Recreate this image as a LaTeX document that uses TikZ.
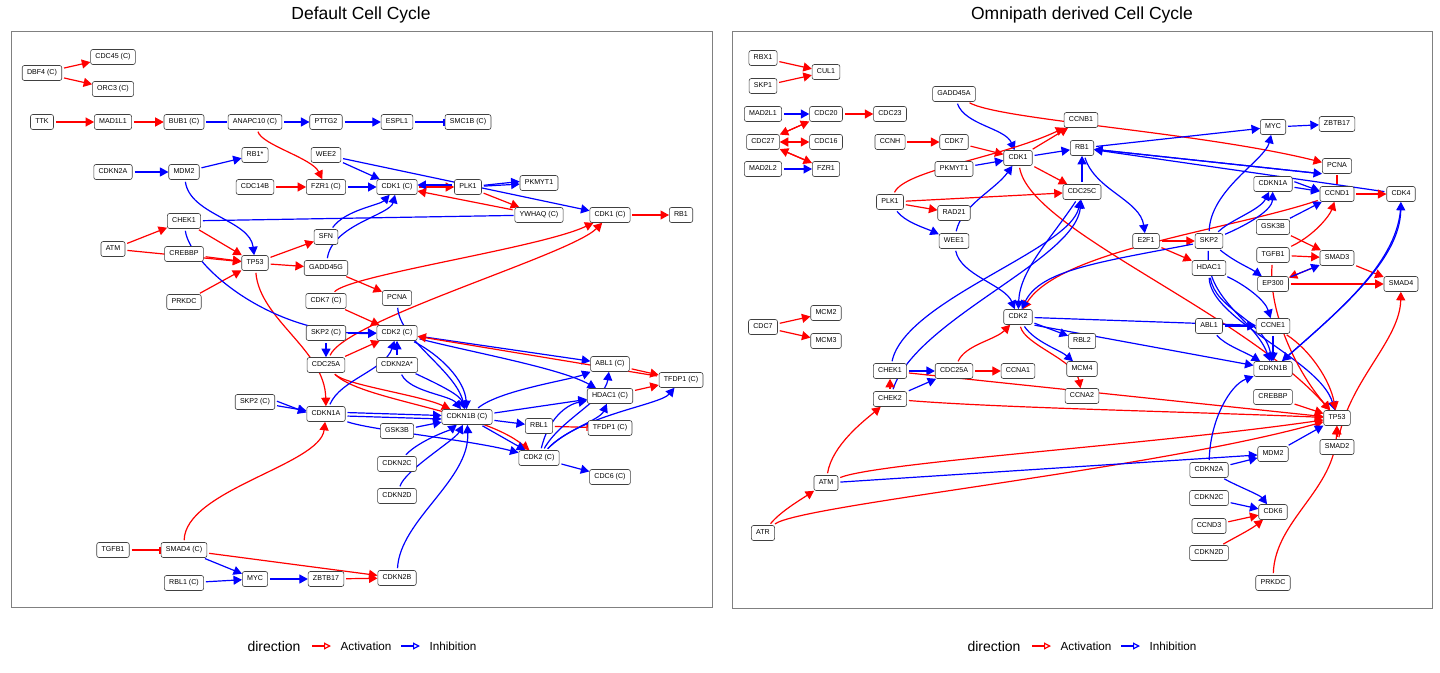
\documentclass[tikz,border=0pt]{standalone}
\usepackage{fontspec}
\setmainfont{Liberation Sans}
\usetikzlibrary{arrows.meta}
\pgfdeclarelayer{canvasbg}
\pgfdeclarelayer{background}
\pgfsetlayers{canvasbg,background,main}
\begin{document}
\begin{tikzpicture}[x=1pt,y=-1pt,
  nd/.style={draw=black!75, fill=white, rounded corners=2.2pt, line width=0.6pt,
    font=\fontsize{7.1}{8}\selectfont, inner xsep=4.8pt, inner ysep=0pt,
    minimum height=15pt, text height=5.3pt, text depth=1.5pt},
  edge/.style={line width=1.2pt, shorten <=2pt},
  tipa/.style={-{Triangle[length=8.5pt,width=9pt]}},
  act/.style={edge, red, tipa},
  inh/.style={edge, blue, tipa},
  acttee/.style={edge, red, -{Bar[width=7pt,line width=1.4pt]}},
  inhtee/.style={edge, blue, -{Bar[width=7pt,line width=1.4pt]}},
  actline/.style={edge, red, shorten >=1pt},
  inhline/.style={edge, blue, shorten >=1pt},
  ttl/.style={font=\fontsize{17.5}{20}\selectfont, anchor=base},
  lgt/.style={font=\fontsize{14}{16}\selectfont, anchor=base},
  lgl/.style={font=\fontsize{11.7}{14}\selectfont, anchor=base},
  lga/.style={line width=1.2pt, -{Triangle[open,length=7pt,width=7pt]}},
  frame/.style={draw=black!50, line width=0.9pt}
]
\useasboundingbox (0,0) rectangle (1440,672);
\begin{pgfonlayer}{canvasbg}
\fill[white] (0,0) rectangle (1440,672);
\end{pgfonlayer}

% titles and frames
\node[ttl] (tl) at (361,19) {Default Cell Cycle};
\node[ttl] (tr) at (1082,19) {Omnipath derived Cell Cycle};
\draw[frame] (11,31) rectangle (712,607);
\draw[frame] (732.5,31) rectangle (1432,608);

% ---------------- left nodes ----------------
\node[nd] (Ldbf4) at (42,73) {DBF4 (C)};
\node[nd] (Lcdc45) at (113,57) {CDC45 (C)};
\node[nd] (Lorc3) at (113,89) {ORC3 (C)};
\node[nd] (Lttk) at (42,122) {TTK};
\node[nd] (Lmad1l1) at (113,122) {MAD1L1};
\node[nd] (Lbub1) at (184,122) {BUB1 (C)};
\node[nd] (Lanapc) at (255,122) {ANAPC10 (C)};
\node[nd] (Lpttg2) at (326,122) {PTTG2};
\node[nd] (Lespl1) at (397,122) {ESPL1};
\node[nd] (Lsmc1b) at (468,122) {SMC1B (C)};
\node[nd] (Lrb1s) at (255,155) {RB1*};
\node[nd] (Lwee2) at (326,155) {WEE2};
\node[nd] (Lcdkn2a) at (113,172) {CDKN2A};
\node[nd] (Lmdm2) at (184,172) {MDM2};
\node[nd] (Lcdc14b) at (255,187) {CDC14B};
\node[nd] (Lfzr1) at (326,187) {FZR1 (C)};
\node[nd] (Lcdk1) at (397,187) {CDK1 (C)};
\node[nd] (Lplk1) at (468,187) {PLK1};
\node[nd] (Lpkmyt1) at (539,183) {PKMYT1};
\node[nd] (Lywhaq) at (539,215) {YWHAQ (C)};
\node[nd] (Lcdk1b) at (610,215) {CDK1 (C)};
\node[nd] (Lrb1) at (681,215) {RB1};
\node[nd] (Lchek1) at (184,221) {CHEK1};
\node[nd] (Lsfn) at (326,237) {SFN};
\node[nd] (Latm) at (113,249) {ATM};
\node[nd] (Lcrebbp) at (184,254) {CREBBP};
\node[nd] (Ltp53) at (255,263) {TP53};
\node[nd] (Lgadd) at (326,268) {GADD45G};
\node[nd] (Lprkdc) at (184,302) {PRKDC};
\node[nd] (Lcdk7) at (326,301) {CDK7 (C)};
\node[nd] (Lpcna) at (397,298) {PCNA};
\node[nd] (Lskp2) at (326,333) {SKP2 (C)};
\node[nd] (Lcdk2) at (397,333) {CDK2 (C)};
\node[nd] (Lcdc25a) at (326,365) {CDC25A};
\node[nd] (Lcdkn2as) at (397,365) {CDKN2A*};
\node[nd] (Labl1) at (610,364) {ABL1 (C)};
\node[nd] (Ltfdp1) at (681,380) {TFDP1 (C)};
\node[nd] (Lhdac1) at (610,396) {HDAC1 (C)};
\node[nd] (Lskp2b) at (255,402) {SKP2 (C)};
\node[nd] (Lcdkn1a) at (326,414) {CDKN1A};
\node[nd] (Lcdkn1b) at (467,417) {CDKN1B (C)};
\node[nd] (Lgsk3b) at (397,431) {GSK3B};
\node[nd] (Lrbl1) at (539,426) {RBL1};
\node[nd] (Ltfdp1b) at (610,428) {TFDP1 (C)};
\node[nd] (Lcdk2b) at (539,458) {CDK2 (C)};
\node[nd] (Lcdkn2c) at (397,464) {CDKN2C};
\node[nd] (Lcdc6) at (610,477) {CDC6 (C)};
\node[nd] (Lcdkn2d) at (397,496) {CDKN2D};
\node[nd] (Ltgfb1) at (113,550) {TGFB1};
\node[nd] (Lsmad4) at (184,550) {SMAD4 (C)};
\node[nd] (Lrbl1c) at (184,583) {RBL1 (C)};
\node[nd] (Lmyc) at (255,579) {MYC};
\node[nd] (Lzbtb17) at (326,579) {ZBTB17};
\node[nd] (Lcdkn2b) at (397,578) {CDKN2B};

% ---------------- right nodes ----------------
\node[nd] (Rrbx1) at (763,58) {RBX1};
\node[nd] (Rcul1) at (826,72) {CUL1};
\node[nd] (Rskp1) at (763,86) {SKP1};
\node[nd] (Rgadd45a) at (954,94) {GADD45A};
\node[nd] (Rmad2l1) at (763,114) {MAD2L1};
\node[nd] (Rcdc20) at (826,114) {CDC20};
\node[nd] (Rcdc23) at (890,114) {CDC23};
\node[nd] (Rccnb1) at (1081,120) {CCNB1};
\node[nd] (Rcdc27) at (763,142) {CDC27};
\node[nd] (Rcdc16) at (826,142) {CDC16};
\node[nd] (Rccnh) at (890,142) {CCNH};
\node[nd] (Rcdk7) at (954,142) {CDK7};
\node[nd] (Rrb1) at (1082,148) {RB1};
\node[nd] (Rcdk1) at (1018,158) {CDK1};
\node[nd] (Rmad2l2) at (763,169) {MAD2L2};
\node[nd] (Rfzr1) at (826,169) {FZR1};
\node[nd] (Rpkmyt1) at (954,169) {PKMYT1};
\node[nd] (Rcdc25c) at (1082,192) {CDC25C};
\node[nd] (Rplk1) at (890,202) {PLK1};
\node[nd] (Rrad21) at (954,213) {RAD21};
\node[nd] (Rwee1) at (954,241) {WEE1};
\node[nd] (Re2f1) at (1146,241) {E2F1};
\node[nd] (Rskp2) at (1209,241) {SKP2};
\node[nd] (Rhdac1) at (1209,268) {HDAC1};
\node[nd] (Rmyc) at (1273,127) {MYC};
\node[nd] (Rzbtb17) at (1337,124) {ZBTB17};
\node[nd] (Rpcna) at (1337,166) {PCNA};
\node[nd] (Rcdkn1a) at (1273,184) {CDKN1A};
\node[nd] (Rccnd1) at (1337,194) {CCND1};
\node[nd] (Rcdk4) at (1401,194) {CDK4};
\node[nd] (Rgsk3b) at (1273,227) {GSK3B};
\node[nd] (Rtgfb1) at (1273,255) {TGFB1};
\node[nd] (Rsmad3) at (1337,258) {SMAD3};
\node[nd] (Rep300) at (1273,284) {EP300};
\node[nd] (Rsmad4) at (1401,284) {SMAD4};
\node[nd] (Rmcm2) at (826,313) {MCM2};
\node[nd] (Rcdk2) at (1018,317) {CDK2};
\node[nd] (Rcdc7) at (763,327) {CDC7};
\node[nd] (Rmcm3) at (826,341) {MCM3};
\node[nd] (Rrbl2) at (1082,341) {RBL2};
\node[nd] (Rabl1) at (1209,326) {ABL1};
\node[nd] (Rccne1) at (1273,326) {CCNE1};
\node[nd] (Rchek1) at (890,371) {CHEK1};
\node[nd] (Rcdc25a) at (954,371) {CDC25A};
\node[nd] (Rccna1) at (1018,371) {CCNA1};
\node[nd] (Rmcm4) at (1082,369) {MCM4};
\node[nd] (Rcdkn1b) at (1273,369) {CDKN1B};
\node[nd] (Rccna2) at (1082,396) {CCNA2};
\node[nd] (Rcrebbp) at (1273,397) {CREBBP};
\node[nd] (Rchek2) at (890,399) {CHEK2};
\node[nd] (Rtp53) at (1337,418) {TP53};
\node[nd] (Rsmad2) at (1337,447) {SMAD2};
\node[nd] (Rmdm2) at (1273,454) {MDM2};
\node[nd] (Rcdkn2a) at (1209,470) {CDKN2A};
\node[nd] (Ratm) at (826,483) {ATM};
\node[nd] (Rcdkn2c) at (1209,498) {CDKN2C};
\node[nd] (Rcdk6) at (1273,512) {CDK6};
\node[nd] (Rccnd3) at (1209,526) {CCND3};
\node[nd] (Ratr) at (763,533) {ATR};
\node[nd] (Rcdkn2d) at (1209,553) {CDKN2D};
\node[nd] (Rprkdc) at (1273,583) {PRKDC};

% ---------------- legends ----------------
\node[lgt] (lgL) at (274,651) {direction};
\coordinate (la1) at (312,646); \coordinate (la2) at (331,646);
\draw[lga, red] (la1) -- (la2);
\node[lgl] (laL) at (366,650) {Activation};
\coordinate (li1) at (401,646); \coordinate (li2) at (420,646);
\draw[lga, blue] (li1) -- (li2);
\node[lgl] (liL) at (453,650) {Inhibition};

\node[lgt] (lgR) at (994,651) {direction};
\coordinate (ra1) at (1032,646); \coordinate (ra2) at (1051,646);
\draw[lga, red] (ra1) -- (ra2);
\node[lgl] (laR) at (1086,650) {Activation};
\coordinate (ri1) at (1121,646); \coordinate (ri2) at (1140,646);
\draw[lga, blue] (ri1) -- (ri2);
\node[lgl] (liR) at (1173,650) {Inhibition};

\begin{pgfonlayer}{background}
% ---------------- left edges ----------------
\draw[act] (Ldbf4) -- (Lcdc45);
\draw[act] (Ldbf4) -- (Lorc3);
\draw[act] (Lttk) -- (Lmad1l1);
\draw[act] (Lmad1l1) -- (Lbub1);
\draw[inhline] (Lbub1) -- (Lanapc);
\draw[inh] (Lanapc) -- (Lpttg2);
\draw[inh] (Lpttg2) -- (Lespl1);
\draw[inhtee] (Lespl1) -- (Lsmc1b);
\draw[act] (Lanapc) .. controls (262,145) and (312,158) .. (Lfzr1);
\draw[inh] (Lcdkn2a) -- (Lmdm2);
\draw[inh] (Lmdm2) -- (Lrb1s);
\draw[inh] (Lmdm2) .. controls (190,215) and (250,220) .. (Ltp53);
\draw[act] (Lcdc14b) -- (Lfzr1);
\draw[inh] (Lfzr1) -- (Lcdk1);
\draw[inh] (Lwee2) -- (Lcdk1);
\draw[inh] (Lwee2) -- (Lcdk1b);
\draw[act] (Lcdk1.east) -- (Lplk1.west);
\draw[inh] ([yshift=2pt]Lplk1.west) -- ([yshift=2pt]Lcdk1.east);
\draw[inh] (Lplk1) -- (Lpkmyt1);
\draw[inh] ([yshift=1.5pt]Lplk1.east) -- ([yshift=1.5pt]Lpkmyt1.west);
\draw[act] (Lplk1) -- (Lywhaq);
\draw[act] (Lywhaq) -- (Lcdk1);
\draw[inhline] (Lchek1) -- (Lywhaq);
\draw[act] (Lcdk1b) -- (Lrb1);
\draw[act] (Latm) -- (Lchek1);
\draw[act] (Latm) -- (Ltp53);
\draw[act] (Lcrebbp) -- (Ltp53);
\draw[act] (Lchek1) -- (Ltp53);
\draw[act] (Lprkdc) -- (Ltp53);
\draw[act] (Ltp53) -- (Lsfn);
\draw[act] (Ltp53) -- (Lgadd);
\draw[act] (Ltp53) .. controls (260,320) and (325,350) .. (Lcdkn1a);
\draw[inh] (Lsfn) .. controls (345,210) and (380,205) .. (Lcdk1);
\draw[inh] (Lgadd) .. controls (332,225) and (390,215) .. (Lcdk1);
\draw[act] (Lgadd) -- (Lpcna);
\draw[inh] (Lchek1) .. controls (190,265) and (270,335) .. (Lcdk2);
\draw[act] (Lcdk7) -- (Lcdk2);
\draw[act] (Lcdk7) .. controls (350,275) and (540,248) .. (Lcdk1b);
\draw[act] (Lcdc25a) .. controls (345,320) and (570,255) .. (Lcdk1b);
\draw[inh] (Lskp2) -- (Lcdc25a);
\draw[inh] (Lskp2) -- (Lcdk2);
\draw[act] (Lcdc25a) -- (Lcdk2);
\draw[inh] (Lpcna) .. controls (400,340) and (455,370) .. (Lcdkn1b);
\draw[inh] (Lcdk2) .. controls (440,355) and (465,380) .. (Lcdkn1b);
\draw[inh] (Lcdk2) -- (Labl1);
\draw[inh] (Lcdk2) .. controls (470,352) and (560,368) .. (Lhdac1);
\draw[act] (Ltfdp1) -- (Lcdk2);
\draw[act] (Labl1) -- (Ltfdp1);
\draw[act] (Lhdac1) -- (Ltfdp1);
\draw[inh] (Lcdkn2as) -- (Lcdk2);
\draw[inh] (Lcdkn2as) .. controls (410,392) and (450,395) .. (Lcdkn1b);
\draw[inh] (Lcdkn2as) .. controls (440,385) and (460,395) .. (Lcdkn1b);
\draw[act] (Lcdc25a) .. controls (345,385) and (420,395) .. (Lcdkn1b);
\draw[act] (Lcdc25a) .. controls (360,400) and (480,410) .. (Lcdk2b);
\draw[inh] (Lcdkn1a) .. controls (340,380) and (385,370) .. (Lcdk2);
\draw[inh] (Lskp2b) -- (Lcdkn1a);
\draw[inh] ([yshift=1.5pt]Lskp2b.east) -- ([yshift=1.5pt]Lcdkn1a.west);
\draw[inh] ([yshift=1.5pt]Lcdkn1a.east) -- ([yshift=1.5pt]Lcdkn1b.west);
\draw[inh] ([yshift=-2pt]Lcdkn1a.east) -- ([yshift=-2pt]Lcdkn1b.west);
\draw[inh] (Lcdkn1a) .. controls (370,430) and (470,440) .. (Lcdk2b);
\draw[inh] (Lgsk3b) -- (Lcdkn1b);
\draw[inh] (Lcdkn1b) .. controls (500,390) and (570,380) .. (Labl1);
\draw[inh] (Lcdkn1b) -- (Lhdac1);
\draw[inh] (Lcdkn1b) -- (Lrbl1);
\draw[inh] (Lcdkn1b) -- (Lcdk2b);
\draw[acttee] (Lrbl1) -- (Ltfdp1b);
\draw[inh] (Lcdk2b) .. controls (548,420) and (565,405) .. (Lhdac1);
\draw[inh] (Lcdk2b) .. controls (560,420) and (605,400) .. (Labl1);
\draw[inh] (Lcdk2b) .. controls (565,430) and (600,420) .. (Lhdac1);
\draw[inh] (Lcdk2b) .. controls (580,415) and (660,405) .. (Ltfdp1);
\draw[inh] (Lcdk2b) -- (Lcdc6);
\draw[inh] (Lcdkn2c) .. controls (420,440) and (450,430) .. (Lcdkn1b);
\draw[inh] (Lcdkn2d) .. controls (405,470) and (455,440) .. (Lcdkn1b);
\draw[inh] (Lcdkn2b) .. controls (400,520) and (470,480) .. (Lcdkn1b);
\draw[acttee] (Ltgfb1) -- (Lsmad4);
\draw[act] (Lsmad4) .. controls (185,490) and (320,465) .. (Lcdkn1a);
\draw[act] (Lsmad4) -- (Lcdkn2b);
\draw[act] (Lzbtb17) -- (Lcdkn2b);
\draw[inh] (Lsmad4) -- (Lmyc);
\draw[inh] (Lrbl1c) -- (Lmyc);
\draw[inh] (Lmyc) -- (Lzbtb17);

% ---------------- right edges ----------------
\draw[act] (Rrbx1) -- (Rcul1);
\draw[act] (Rskp1) -- (Rcul1);
\draw[inh] (Rmad2l1) -- (Rcdc20);
\draw[act] (Rcdc20) -- (Rcdc23);
\draw[act] (Rcdc20) -- (Rcdc27);
\draw[act] (Rcdc27) -- (Rcdc20);
\draw[act] (Rcdc16) -- (Rcdc27);
\draw[act] (Rcdc27) -- (Rcdc16);
\draw[act] (Rfzr1) -- (Rcdc27);
\draw[act] (Rcdc27) -- (Rfzr1);
\draw[inh] (Rmad2l2) -- (Rfzr1);
\draw[act] (Rccnh) -- (Rcdk7);
\draw[act] (Rcdk7) -- (Rcdk1);
\draw[act] (Rgadd45a) .. controls (1000,120) and (1200,132) .. (Rpcna);
\draw[inh] (Rgadd45a) .. controls (965,125) and (1005,128) .. (Rcdk1);
\draw[act] (Rcdk1) -- (Rccnb1);
\draw[act] (Rplk1) .. controls (905,170) and (1000,158) .. (Rccnb1);
\draw[inh] (Rpkmyt1) -- (Rcdk1);
\draw[inh] (Rcdk1) -- (Rrb1);
\draw[act] (Rcdk1) -- (Rcdc25c);
\draw[act] (Rplk1) -- (Rcdc25c);
\draw[act] (Rplk1) -- (Rrad21);
\draw[inh] (Rplk1) .. controls (905,222) and (925,228) .. (Rwee1);
\draw[inh] (Rwee1) .. controls (962,205) and (995,190) .. (Rcdk1);
\draw[inh] (Rwee1) .. controls (960,275) and (1005,285) .. (Rcdk2);
\draw[act] (Rcdk1) .. controls (1030,230) and (1240,310) .. (Rtp53);
\draw[inh] (Rcdc25c) -- (Rrb1);
\draw[inh] (Rcdc25c) .. controls (1050,240) and (1020,270) .. (Rcdk2);
\draw[inh] (Rchek1) .. controls (905,300) and (1070,250) .. (Rcdc25c);
\draw[inh] (Rchek2) .. controls (915,320) and (1075,260) .. (Rcdc25c);
\draw[inh] (Rrb1) .. controls (1095,190) and (1140,200) .. (Re2f1);
\draw[inh] (Rrb1) -- (Rmyc);
\draw[inh] (Rmyc) -- (Rzbtb17);
\draw[act] (Re2f1) -- (Rskp2);
\draw[act] (Re2f1) -- (Rhdac1);
\draw[act] (Rccnd1) .. controls (1230,230) and (1060,250) .. (Rcdk2);
\draw[inh] (Rskp2) .. controls (1100,262) and (1040,270) .. (Rcdk2);
\draw[inh] (Rskp2) .. controls (1210,190) and (1265,160) .. (Rmyc);
\draw[inh] (Rskp2) .. controls (1230,220) and (1260,210) .. (Rcdkn1a);
\draw[inh] (Rskp2) .. controls (1240,228) and (1272,212) .. (Rcdkn1a);
\draw[inh] (Rcdkn1a) -- (Rccnd1);
\draw[inh] ([yshift=3pt]Rcdkn1a.east) -- ([yshift=3pt]Rccnd1.west);
\draw[inh] (Rcdk4) -- (Rrb1);
\draw[inh] (Rrb1) -- (Rpcna.south west);
\draw[inh] (Rpcna.south west) -- (Rrb1);
\draw[inh] (Rgsk3b) -- (Rccnd1);
\draw[act] (Rtgfb1) .. controls (1315,235) and (1330,215) .. (Rccnd1);
\draw[act] (Rtgfb1) -- (Rsmad3);
\draw[act] (Rgsk3b) -- (Rsmad3);
\draw[act] (Rsmad3) -- (Rsmad4);
\draw[act] (Rep300) -- (Rsmad4);
\draw[act] (Rsmad3) -- (Rep300);
\draw[inh] (Rep300) -- (Rsmad3);
\draw[act] (Rccnd1) -- (Rcdk4);
\draw[actline] (Rccnd1) -- (Rpcna);
\draw[inh] (Rskp2) .. controls (1235,262) and (1250,268) .. (Rep300);
\draw[inh] (Rhdac1) .. controls (1245,285) and (1265,300) .. (Rccne1);
\draw[inh] (Rskp2) .. controls (1205,300) and (1255,320) .. (Rcdkn1b);
\draw[inh] (Rhdac1) .. controls (1215,310) and (1265,320) .. (Rcdkn1b);
\draw[inh] (Rhdac1) .. controls (1210,320) and (1320,360) .. (Rtp53);
\draw[act] (Rtgfb1) .. controls (1268,310) and (1295,370) .. (Rtp53);
\draw[act] (Rccne1) .. controls (1310,350) and (1330,380) .. (Rtp53);
\draw[inh] (Rabl1) -- (Rccne1);
\draw[inh] (Rcdk2) -- (Rccne1);
\draw[inh] (Rabl1) .. controls (1225,345) and (1245,352) .. (Rcdkn1b);
\draw[inh] (Rccne1) -- (Rcdkn1b);
\draw[inh] (Rcdk2) -- (Rrbl2);
\draw[inh] (Rcdk2.south east) -- (Rcdkn1b);
\draw[inh] (Rcdk2) .. controls (1035,342) and (1060,350) .. (Rmcm4);
\draw[act] (Rcdk2) .. controls (1025,345) and (1075,360) .. (Rccna2);
\draw[inh] (Rcdkn1b) .. controls (1340,310) and (1400,260) .. (Rcdk4);
\draw[inh] (Rcdk4) .. controls (1400,260) and (1340,310) .. (Rcdkn1b);
\draw[act] (Rcdc25a) .. controls (965,345) and (995,340) .. (Rcdk2);
\draw[act] (Rcdc25a) -- (Rccna1);
\draw[inh] (Rchek1) -- (Rcdc25a);
\draw[inh] (Rchek2) -- (Rcdc25a);
\draw[act] (Rchek2) -- (Rchek1);
\draw[act] (Rchek1) -- (Rtp53);
\draw[act] (Rchek2) .. controls (1000,408) and (1200,412) .. (Rtp53);
\draw[act] (Rcrebbp) -- (Rtp53);
\draw[act] (Ratm) .. controls (832,445) and (865,420) .. (Rchek2);
\draw[act] (Ratr) .. controls (780,512) and (800,500) .. (Ratm);
\draw[act] (Ratr) .. controls (800,505) and (1150,470) .. (Rtp53);
\draw[act] (Ratm) .. controls (880,462) and (1150,445) .. (Rtp53);
\draw[inh] (Ratm) -- (Rmdm2);
\draw[inh] (Rcdkn2a) -- (Rmdm2);
\draw[inh] (Rmdm2) -- (Rtp53);
\draw[act] (Rsmad2) -- (Rtp53);
\draw[act] (Rprkdc) .. controls (1275,520) and (1335,490) .. (Rtp53);
\draw[act] (Rsmad2) .. controls (1350,380) and (1400,340) .. (Rsmad4);
\draw[inh] (Rcdkn2a) .. controls (1210,420) and (1230,385) .. (Rcdkn1b);
\draw[inh] (Rcdkn2a) .. controls (1235,485) and (1260,495) .. (Rcdk6);
\draw[inh] (Rcdkn2c) -- (Rcdk6);
\draw[act] (Rccnd3) -- (Rcdk6);
\draw[act] (Rcdkn2d) .. controls (1230,540) and (1250,530) .. (Rcdk6);
\draw[act] (Rcdc7) -- (Rmcm2);
\draw[act] (Rcdc7) -- (Rmcm3);
\end{pgfonlayer}
\end{tikzpicture}
\end{document}
